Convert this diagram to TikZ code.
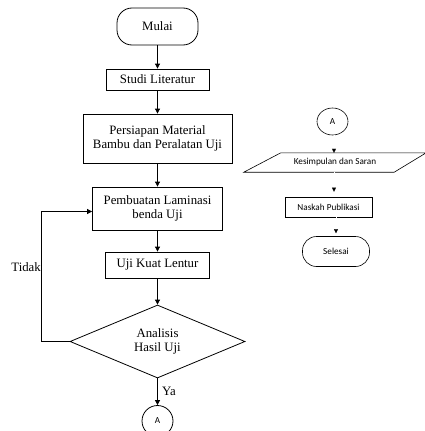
\documentclass[tikz,border=0pt]{standalone}
\usepackage{fontspec}
\setmainfont{Liberation Serif}
\newfontfamily\carl{Carlito}
\usetikzlibrary{arrows.meta,shapes.geometric,calc}
\begin{document}
\begin{tikzpicture}[x=1pt,y=-1pt,
  every node/.style={font=\fontsize{12.8}{14.5}\selectfont, align=center, inner sep=0pt},
  box/.style={draw, line width=0.8pt, rectangle},
  term/.style={draw, line width=0.8pt, rounded corners=15pt},
  arr/.style={line width=0.8pt, -{Triangle[length=5pt,width=5pt]}},
  rtext/.style={font=\carl\fontsize{9.2}{10}\selectfont},
  rbox/.style={draw, line width=0.6pt, rtext},
  sarr/.style={draw=white, line width=0.1pt, -{Triangle[length=4pt,width=4pt,color=black]}}
]
\useasboundingbox (0,0) rectangle (425,431);

% left column
\node[term, minimum width=81pt, minimum height=37pt] (mu) at (157.5,26.5) {Mulai};
\node[box, minimum width=103pt, minimum height=21pt] (sl) at (157.5,79.5) {Studi Literatur};
\node[box, minimum width=149pt, minimum height=49pt] (pm) at (157.5,138.5) {Persiapan Material\\Bambu dan Peralatan Uji};
\node[box, minimum width=130pt, minimum height=43pt] (pl) at (157.5,208.5) {Pembuatan Laminasi\\benda Uji};
\node[box, minimum width=104pt, minimum height=26pt] (uk) at (157.5,265) {Uji Kuat Lentur};
\node[draw, line width=0.8pt, diamond, aspect=2.4, minimum width=175pt, minimum height=73pt] (an) at (157.5,341.5) {Analisis\\Hasil Uji};
\node[draw, line width=0.8pt, circle, minimum size=31pt, font=\carl\fontsize{9.2}{10}\selectfont] (aL) at (157.5,421) {A};

\draw[arr] (mu) -- (sl);
\draw[arr] (sl) -- (pm);
\draw[arr] (pm) -- (pl);
\draw[arr] (pl) -- (uk);
\draw[arr] (uk) -- (an);
\draw[arr] (an) -- (aL);
\draw[arr] (an.west) -- ++(-28,0) coordinate (lc) |- ([yshift=-3pt]pl.west);
\node[anchor=east] (td) at (41,267) {Tidak};
\node[anchor=west] (ya) at (162,391) {Ya};

% right column
\node[draw, line width=0.6pt, ellipse, minimum width=31pt, minimum height=27pt, rtext] (aR) at (332.5,121.5) {A};
\node[minimum width=182pt, minimum height=19pt, rtext] (ks) at (335,162.5) {Kesimpulan dan Saran};
\draw[line width=0.6pt] (ks.south west) -- ($(ks.south east)+(-32,0)$) -- (ks.north east) -- ($(ks.north west)+(37,0)$) -- cycle;
\node[rbox, minimum width=87pt, minimum height=20pt] (nk) at (328.5,207) {Naskah Publikasi};
\node[rbox, rounded corners=14pt, minimum width=67pt, minimum height=30pt] (se) at (336,251.5) {Selesai};

\draw[sarr] ([xshift=1.5pt]aR.south) -- ([xshift=1.5pt]aR.south |- ks.north);
\draw[sarr] ([xshift=1.5pt]aR.south |- ks.south) -- ([xshift=1.5pt,yshift=5pt]aR.south |- nk.north);
\draw[sarr] (se.north |- nk.south) -- ([yshift=3pt]se.north);
\end{tikzpicture}
\end{document}
